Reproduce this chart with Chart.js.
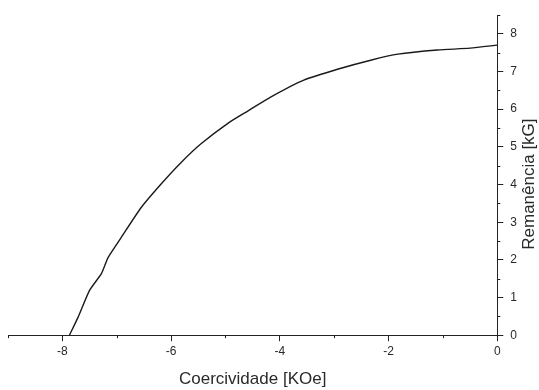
<!DOCTYPE html>
<html>
<head>
<meta charset="utf-8">
<script src="https://cdn.jsdelivr.net/npm/chart.js@4/dist/chart.umd.min.js"></script>
<style>
    html, body { margin: 0; padding: 0; background: #fff; }
    #chartCurva { display: block; }
</style>
</head>
<body>
<canvas id="chartCurva" width="539" height="390"></canvas>
<script>
// curva de desmagnetizacao
var coercividade = [-7.87, -7.71, -7.50, -7.28, -7.16, -6.92, -6.55, -6.18, -5.82, -5.45, -4.95, -4.59, -4.17, -3.56, -2.94, -2.33, -1.83, -1.10, -0.50, 0];
var remanencia = [0, 0.48, 1.19, 1.64, 2.06, 2.59, 3.39, 4.02, 4.58, 5.08, 5.63, 5.95, 6.32, 6.77, 7.06, 7.30, 7.46, 7.57, 7.62, 7.70];

var ticksX = [-8, -6, -4, -2, 0];
var minorX = [-9, -7, -5, -3, -1];
var ticksY = [0, 1, 2, 3, 4, 5, 6, 7, 8];
var minorY = [0.5, 1.5, 2.5, 3.5, 4.5, 5.5, 6.5, 7.5, 8.5];

var tituloY = 'Remanência [kG]';
var corTexto = '#2a2a2a';

function getPontos() {
    var pontos = [];
    for (var i = 0; i < coercividade.length; i++) {
        pontos.push({ x: coercividade[i], y: remanencia[i] });
    }
    return pontos;
}

function fixTicks(valores) {
    return function (scale) {
        scale.ticks = valores.map(function (v) { return { value: v }; });
    };
}

// tracinhos menores + titulo do eixo y (lido de baixo para cima)
var minorTicksPlugin = {
    id: 'minorTicks',
    afterDraw: function (chart) {
        var ctx = chart.ctx;
        var sx = chart.scales.x;
        var sy = chart.scales.y;
        ctx.save();
        ctx.strokeStyle = '#222';
        ctx.lineWidth = 1;
        ctx.beginPath();
        minorX.forEach(function (v) {
            var px = Math.round(sx.getPixelForValue(v)) + 0.5;
            ctx.moveTo(px, sx.top);
            ctx.lineTo(px, sx.top + 3);
        });
        minorY.forEach(function (v) {
            var py = Math.round(sy.getPixelForValue(v)) + 0.5;
            ctx.moveTo(sy.left, py);
            ctx.lineTo(sy.left + 3, py);
        });
        ctx.stroke();

        var area = chart.chartArea;
        ctx.translate(chart.width - 10, (area.top + area.bottom) / 2 + 9);
        ctx.rotate(-Math.PI / 2);
        ctx.fillStyle = corTexto;
        ctx.font = '17px "Liberation Sans"';
        ctx.textAlign = 'center';
        ctx.textBaseline = 'middle';
        ctx.fillText(tituloY, 0, 0);
        ctx.restore();
    }
};

function renderChart(chartId) {
    var ctx = document.getElementById(chartId);
    var chart = new Chart(ctx, {
        type: 'scatter',
        data: {
            datasets: [{
                data: getPontos(),
                showLine: true,
                borderColor: '#1a1a1a',
                borderWidth: 1.4,
                pointRadius: 0,
                tension: 0.2,
                fill: false
            }]
        },
        options: {
            responsive: false,
            animation: false,
            layout: { padding: { left: 8, top: 15, right: 15, bottom: 0 } },
            plugins: {
                legend: { display: false },
                tooltip: { enabled: false }
            },
            scales: {
                x: {
                    type: 'linear',
                    min: -9,
                    max: 0,
                    afterBuildTicks: fixTicks(ticksX),
                    border: { display: true, color: '#222', width: 1 },
                    grid: { drawOnChartArea: false, drawTicks: true, tickLength: 6, color: '#222' },
                    ticks: {
                        color: corTexto,
                        font: { family: 'Liberation Sans', size: 12 },
                        padding: 3,
                        maxRotation: 0
                    },
                    title: {
                        display: true,
                        text: 'Coercividade [KOe]',
                        color: corTexto,
                        font: { family: 'Liberation Sans', size: 17 },
                        padding: { top: 8, bottom: 0 }
                    }
                },
                y: {
                    type: 'linear',
                    position: 'right',
                    min: 0,
                    max: 8.5,
                    afterBuildTicks: fixTicks(ticksY),
                    border: { display: true, color: '#222', width: 1 },
                    grid: { drawOnChartArea: false, drawTicks: true, tickLength: 6, color: '#222' },
                    ticks: {
                        color: corTexto,
                        font: { family: 'Liberation Sans', size: 12 },
                        padding: 7
                    },
                    title: { display: false }
                }
            }
        },
        plugins: [minorTicksPlugin]
    });
    return chart;
}

renderChart('chartCurva');
</script>
</body>
</html>
